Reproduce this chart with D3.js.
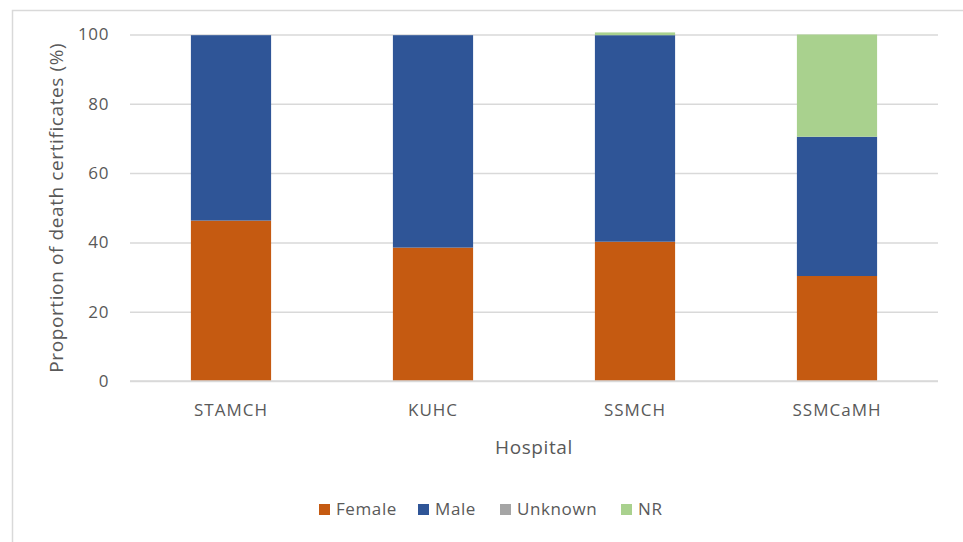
<!DOCTYPE html>
<html>
<head>
<meta charset="utf-8">
<script src="https://cdn.jsdelivr.net/npm/d3@7"></script>
<style>
  body { margin: 0; background: #fff; }
  svg text { font-family: "Open Sans", "Liberation Sans", sans-serif; fill: #595959; }
</style>
</head>
<body>
<div id="chart"></div>
<script>
// data
var hospitals = ["STAMCH", "KUHC", "SSMCH", "SSMCaMH"];
var female  = [46.3, 38.5, 40.2, 30.3];
var male    = [53.5, 61.3, 59.6, 40.2];
var unknown = [0, 0, 0, 0];
var nr      = [0, 0, 0.8, 29.5];
var seriesNames = ["Female", "Male", "Unknown", "NR"];
var yTicks = [0, 20, 40, 60, 80, 100];

var colors = ["#c55a11", "#2f5597", "#a5a5a5", "#a9d18e"];

var svgWidth = 963;
var svgHeight = 542;

var margin = { top: 34.5, right: 25, bottom: 161, left: 130 }
var chartWidth = svgWidth - margin.left - margin.right
var chartHeight = svgHeight - margin.top - margin.bottom

var svg = d3.select("#chart")
            .append("svg")
            .attr("width", svgWidth)
            .attr("height", svgHeight)

// outer chart frame (runs off the right/bottom edge in the reference)
svg.append("rect")
   .attr("x", 12.5).attr("y", 10.5)
   .attr("width", 980).attr("height", 560)
   .attr("fill", "none")
   .attr("stroke", "#d9d9d9")
   .attr("stroke-width", 1.5)

var chartGroup = svg.append("g")
                .attr("transform", `translate(${margin.left}, ${margin.top})`);

var table = hospitals.map((h, i) => ({
    hospital: h, Female: female[i], Male: male[i], Unknown: unknown[i], NR: nr[i]
}))

var stack = d3.stack().keys(seriesNames)
var stacked = stack(table)

var xBandScale = d3.scaleBand()
                   .domain(hospitals)
                   .range([0, chartWidth])
                   .paddingInner(0.603)
                   .paddingOuter(0.3015)

var yLinearScale = d3.scaleLinear()
                     .domain([0, 100])
                     .range([chartHeight, 0])

// gridlines
chartGroup.append("g")
    .call(d3.axisLeft(yLinearScale).tickValues(yTicks).tickSize(-chartWidth).tickFormat(""))
    .call(g => g.select(".domain").remove())
    .selectAll("line")
    .attr("stroke", "#d9d9d9")
    .attr("stroke-width", 1.5)

// tick labels
var yAxis = chartGroup.append("g")
    .call(d3.axisLeft(yLinearScale).tickValues(yTicks).tickSize(0).tickPadding(21))
yAxis.select(".domain").remove()
yAxis.selectAll("text")
    .style("font-size", "17px")
    .style("letter-spacing", "0.6px")
    .attr("fill", "#595959")

chartGroup.selectAll(".layer")
    .data(stacked)
    .enter()
    .append("g")
    .attr("fill", (d, i) => colors[i])
    .selectAll("rect")
    .data(d => d)
    .enter()
    .append("rect")
    .attr("x", d => xBandScale(d.data.hospital))
    .attr("y", d => yLinearScale(d[1]))
    .attr("width", xBandScale.bandwidth())
    .attr("height", d => yLinearScale(d[0]) - yLinearScale(d[1]))

// baseline
chartGroup.append("line")
    .attr("x1", 0).attr("x2", chartWidth)
    .attr("y1", chartHeight).attr("y2", chartHeight)
    .attr("stroke", "#d9d9d9")
    .attr("stroke-width", 1.5)

var xAxis = chartGroup.append("g")
    .attr("transform", `translate(0, ${chartHeight})`)
    .call(d3.axisBottom(xBandScale).tickSize(0).tickPadding(23))
xAxis.select(".domain").remove()
xAxis.selectAll("text")
    .style("font-size", "17px")
    .style("letter-spacing", "1px")
    .attr("fill", "#595959")

// axis titles
svg.append("text")
    .attr("x", margin.left + chartWidth / 2)
    .attr("y", 454)
    .attr("text-anchor", "middle")
    .style("font-size", "19px")
    .style("letter-spacing", "0.6px")
    .text("Hospital")

svg.append("text")
    .attr("transform", `translate(63, ${margin.top + chartHeight / 2}) rotate(-90)`)
    .attr("text-anchor", "middle")
    .style("font-size", "19px")
    .style("letter-spacing", "0.6px")
    .text("Proportion of death certificates (%)")

// legend
var legendX = [319, 418, 500, 621];
var legend = svg.append("g")
legend.selectAll("g")
    .data(seriesNames)
    .enter()
    .append("g")
    .attr("transform", (d, i) => `translate(${legendX[i]}, 509)`)
    .each(function(d, i) {
        d3.select(this).append("rect")
            .attr("x", 0).attr("y", -5)
            .attr("width", 11).attr("height", 11)
            .attr("fill", colors[i])
        d3.select(this).append("text")
            .attr("x", 17).attr("y", 6)
            .style("font-size", "17px")
            .style("letter-spacing", "0.6px")
            .text(d)
    })
</script>
</body>
</html>
